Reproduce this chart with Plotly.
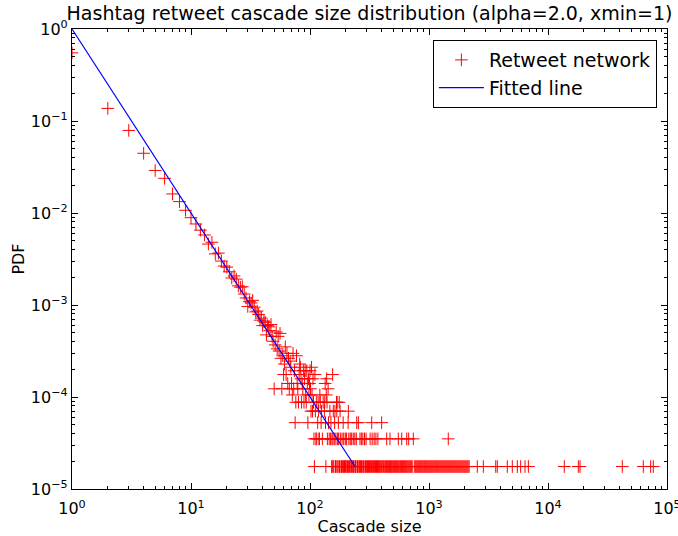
import plotly.graph_objects as go

TITLE = "Hashtag retweet cascade size distribution (alpha=2.0, xmin=1)"
X_LABEL = "Cascade size"
Y_LABEL = "PDF"
SERIES_NAME = "Retweet network"
FIT_NAME = "Fitted line"

N_TOTAL = 57000
ALPHA = 2.0
XMIN = 1

# cascade sizes observed more than twice, with their counts
multi_sizes = [1, 2, 3, 4, 5, 6, 7, 8, 9, 10, 11, 12, 13, 14, 15, 16, 17, 18, 19, 20,
               21, 22, 23, 24, 25, 26, 27, 28, 29, 30, 31, 32, 33, 34, 35, 36, 37, 38, 39, 40,
               41, 42, 43, 44, 45, 46, 47, 48, 49, 50, 51, 52, 53, 54, 55, 56, 57, 58, 59, 60,
               61, 62, 63, 64, 65, 66, 67, 68, 69, 70, 71, 72, 73, 74, 75, 76, 77, 78, 79, 80,
               81, 82, 83, 84, 85, 86, 87, 88, 89, 90, 91, 92, 93, 94, 95, 96, 97, 98, 99, 100,
               101, 102, 103, 104, 105, 106, 107, 110, 111, 113, 116, 117, 118, 121, 122, 124,
               125, 129, 132, 133, 134, 135, 137, 138, 139, 142, 143, 147, 150, 155, 157, 161,
               162, 167, 168, 169, 173, 176, 179, 190, 209, 210, 247, 255, 330, 400]
multi_counts = [31350, 7809, 4503, 2542, 1653, 1357, 918, 758, 610, 507, 433, 371, 329, 262, 274, 205, 209, 171, 151, 147,
                131, 112, 118, 109, 92, 89, 90, 75, 68, 55, 62, 60, 64, 54, 48, 49, 45, 39, 41, 34,
                38, 37, 27, 34, 33, 30, 35, 26, 23, 7, 21, 29, 19, 26, 18, 28, 15, 7, 16, 10,
                13, 20, 10, 17, 8, 15, 7, 14, 12, 8, 6, 17, 7, 11, 3, 5, 16, 8, 7, 5,
                10, 13, 12, 9, 5, 8, 7, 11, 5, 9, 11, 6, 5, 11, 8, 3, 9, 6, 8, 11,
                7, 4, 12, 6, 4, 9, 5, 10, 4, 5, 3, 5, 4, 6, 5, 3,
                4, 5, 4, 5, 8, 3, 6, 9, 5, 7, 3, 4, 3, 10, 4, 3,
                4, 5, 4, 5, 3, 5, 4, 3, 3, 4, 3, 3, 3, 3]

# cascade sizes observed exactly twice
twice_sizes = [108, 112, 114, 119, 120, 127, 140, 145, 149, 153, 156, 160, 165, 170, 174, 180,
               186, 192, 198, 203, 212, 218, 224, 231, 238, 245, 263, 270, 278, 287, 296, 320,
               333, 346, 358, 372, 441, 470, 552, 590, 650, 675, 738, 1452]

# cascade sizes observed exactly once
once_sizes = [109, 136, 152, 154, 158, 163, 164, 166, 171, 175, 177, 182, 184, 188, 191, 195,
              199, 201, 205, 207, 211, 215, 220, 223, 227, 232, 235, 241, 243, 249, 251, 257,
              261, 266, 271, 275, 282, 285, 293, 299, 304, 310, 316, 323, 329, 336, 342, 349,
              355, 362, 369, 377, 383, 390, 398, 405, 414, 421, 430, 439, 447, 456, 465, 474,
              483, 492, 502, 512, 522, 532, 542, 553, 563, 575, 586, 598, 609, 621, 633, 645,
              657, 670, 683, 697, 710, 722, 752, 767, 782, 797, 813, 829, 845, 861, 878, 895,
              913, 931, 949, 967, 986, 1005, 1025, 1045, 1065, 1086, 1107, 1129, 1151, 1173,
              1196, 1219, 1243, 1267, 1292, 1317, 1343, 1369, 1396, 1423, 1451, 1479, 1508,
              1537, 1567, 1598, 1629, 1660, 1693, 1726, 1760, 1794, 1829, 1864, 1901, 1938,
              1976, 2014, 2054, 2093, 2130, 2175, 2546, 2862, 3637, 3750, 4549, 5012, 5525,
              5893, 6410, 6838, 13710, 17980, 18580, 42100, 63200, 72900, 76700]

x_tickvals = [1, 10, 100, 1000, 10000, 100000]
x_ticktext = ["10<sup>0</sup>", "10<sup>1</sup>", "10<sup>2</sup>", "10<sup>3</sup>",
              "10<sup>4</sup>", "10<sup>5</sup>"]
y_tickvals = [1e-5, 1e-4, 1e-3, 1e-2, 1e-1, 1]
y_ticktext = ["10<sup>\u22125</sup>", "10<sup>\u22124</sup>", "10<sup>\u22123</sup>",
              "10<sup>\u22122</sup>", "10<sup>\u22121</sup>", "10<sup>0</sup>"]

# assemble the empirical PDF
sizes = multi_sizes + twice_sizes + once_sizes
counts = multi_counts + [2] * len(twice_sizes) + [1] * len(once_sizes)
pdf = [c / N_TOTAL for c in counts]

# fitted power law from xmin to where it meets the smallest observed pdf
min_pdf = min(pdf)
x_end = (min_pdf * XMIN / (ALPHA - 1)) ** (-1 / ALPHA) * XMIN
fit_x = [XMIN, x_end]
fit_y = [(ALPHA - 1) / XMIN * (x / XMIN) ** (-ALPHA) for x in fit_x]

minor_x = [m * 10 ** k for k in range(0, 5) for m in range(2, 10)]
minor_y = [m * 10.0 ** k for k in range(-5, 0) for m in range(2, 10)]

FONT = "DejaVu Sans, Liberation Sans, sans-serif"

fig = go.Figure()
fig.add_trace(go.Scatter(
    x=sizes, y=pdf, mode="markers", name=SERIES_NAME,
    marker=dict(symbol="cross-thin", size=9, color="red",
                line=dict(color="red", width=1)),
))
fig.add_trace(go.Scatter(
    x=fit_x, y=fit_y, mode="lines", name=FIT_NAME,
    line=dict(color="#0000ff", width=1.2),
))

axis_common = dict(
    type="log", showgrid=False, zeroline=False, automargin=False,
    showline=True, linecolor="black", linewidth=1.2, mirror="ticks",
    ticks="inside", ticklen=6, tickwidth=1, tickcolor="black",
    tickfont=dict(size=16, color="black", family=FONT),
    tickmode="array", ticklabeloverflow="allow",
)

fig.update_xaxes(
    **axis_common, range=[0, 5], tickvals=x_tickvals, ticktext=x_ticktext,
    ticklabelstandoff=5,
    minor=dict(ticks="inside", ticklen=3, tickwidth=1, tickcolor="black",
               tickmode="array", tickvals=minor_x, showgrid=False),
    title=dict(text=X_LABEL, font=dict(size=16, color="black", family=FONT), standoff=4),
)
fig.update_yaxes(
    **axis_common, range=[-5, 0], tickvals=y_tickvals, ticktext=y_ticktext,
    minor=dict(ticks="inside", ticklen=3, tickwidth=1, tickcolor="black",
               tickmode="array", tickvals=minor_y, showgrid=False),
    title=dict(text=Y_LABEL, font=dict(size=16, color="black", family=FONT), standoff=2),
)

fig.update_layout(
    width=678, height=536,
    margin=dict(l=72, r=11, t=29, b=47),
    paper_bgcolor="white", plot_bgcolor="white",
    font=dict(family=FONT, color="black"),
    title=dict(text=TITLE, font=dict(size=19, color="black", family=FONT),
               x=0.5, xref="paper", xanchor="center",
               y=1 - 13 / 536, yref="container", yanchor="middle"),
    legend=dict(x=0.983, y=0.976, xanchor="right", yanchor="top",
                bgcolor="white", bordercolor="black", borderwidth=1,
                font=dict(size=19, color="black", family=FONT),
                itemwidth=45, tracegroupgap=0),
    showlegend=True,
)

fig.write_html("out.html")
